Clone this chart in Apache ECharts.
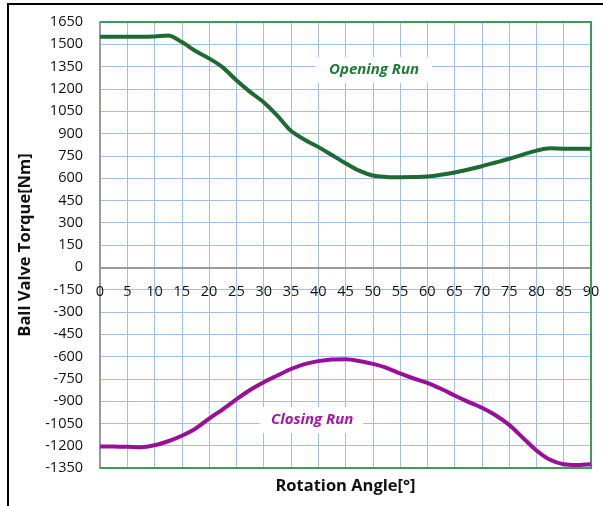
<!DOCTYPE html>
<html>
<head>
<meta charset="utf-8">
<script src="https://cdn.jsdelivr.net/npm/echarts@6/dist/echarts.min.js"></script>
<style>
  html, body { margin: 0; padding: 0; background: #fff; }
  #chart { width: 603px; height: 506px; }
</style>
</head>
<body>
<div id="chart"></div>
<script>
// Ball valve torque over the rotation angle, opening and closing runs
const openingAngles = [0, 2.5, 5, 7.5, 10, 12.5, 15, 17.5, 20, 22.5, 25, 27.5, 30, 32.5, 35, 37.5, 40, 42.5, 45, 47.5, 50, 52.5, 55, 57.5, 60, 62.5, 65, 67.5, 70, 72.5, 75, 77.5, 80, 82.5, 85, 87.5, 90];
const openingTorque = [1550, 1550, 1550, 1550, 1553, 1560, 1515, 1455, 1405, 1345, 1258, 1180, 1110, 1020, 918, 858, 810, 755, 700, 650, 617, 608, 606, 607, 610, 622, 638, 658, 680, 705, 730, 758, 785, 800, 798, 798, 798];

const closingAngles = [0, 2.5, 5, 7.5, 10, 12.5, 15, 17.5, 20, 22.5, 25, 27.5, 30, 32.5, 35, 37.5, 40, 42.5, 45, 47.5, 50, 52.5, 55, 57.5, 60, 62.5, 65, 67.5, 70, 72.5, 75, 77.5, 80, 82.5, 85, 87.5, 90];
const closingTorque = [-1205, -1206, -1207, -1210, -1197, -1170, -1133, -1085, -1018, -955, -888, -825, -773, -728, -684, -651, -631, -620, -618, -630, -650, -676, -714, -748, -777, -817, -862, -905, -945, -995, -1060, -1146, -1232, -1295, -1325, -1330, -1325];

const xTicks = { min: 0, max: 90, step: 5 };
const yTicks = { min: -1350, max: 1650, step: 150 };

const pairs = (xs, ys) => xs.map((x, i) => [x, ys[i]]);

const FONT = '"Open Sans", "Liberation Sans", sans-serif';
const GRID_BLUE = '#a3bfe6';
const BORDER_GREEN = '#3b9a5c';

// plot box in pixels
const W = 603, H = 506;
const GRID = { left: 100, right: 12, top: 22, bottom: 38 };
const plotWidth = W - GRID.left - GRID.right;
const plotHeight = H - GRID.top - GRID.bottom;
// lift the angle axis from the bottom edge up to the zero-torque line
const zeroLift = plotHeight * (0 - yTicks.min) / (yTicks.max - yTicks.min);

const chart = echarts.init(document.getElementById('chart'), null, { renderer: 'canvas' });

chart.setOption({
  animation: false,
  backgroundColor: '#fff',
  grid: GRID,
  xAxis: [
    {
      type: 'value', min: xTicks.min, max: xTicks.max, interval: xTicks.step,
      position: 'bottom', offset: -zeroLift,
      axisLine: { onZero: false, lineStyle: { color: '#9a9a9a', width: 2 } },
      axisTick: { show: false },
      axisLabel: { color: '#111', fontFamily: FONT, fontSize: 14.5, margin: 17, showMaxLabel: true },
      splitLine: { show: true, lineStyle: { color: GRID_BLUE, width: 1 } }
    },
    {
      type: 'value', min: xTicks.min, max: xTicks.max, position: 'bottom',
      name: 'Rotation Angle[°]', nameLocation: 'middle', nameGap: 10,
      nameTextStyle: { color: '#111', fontFamily: FONT, fontSize: 16.5, fontWeight: 'bold' },
      axisLine: { show: false, onZero: false }, axisTick: { show: false }, axisLabel: { show: false },
      splitLine: { show: false }
    }
  ],
  yAxis: {
    type: 'value', min: yTicks.min, max: yTicks.max, interval: yTicks.step,
    name: 'Ball Valve Torque[Nm]', nameLocation: 'middle', nameGap: 54,
    nameTextStyle: { color: '#111', fontFamily: FONT, fontSize: 16.5, fontWeight: 'bold' },
    axisLine: { show: true, onZero: false, lineStyle: { color: '#9a9a9a', width: 2 } },
    axisTick: { show: false },
    axisLabel: { color: '#111', fontFamily: FONT, fontSize: 14.5, margin: 17, formatter: v => String(v) },
    splitLine: { show: true, lineStyle: { color: GRID_BLUE, width: 1 } }
  },
  series: [
    {
      name: 'Opening Run', type: 'line', smooth: 0.3, symbol: 'none',
      data: pairs(openingAngles, openingTorque),
      lineStyle: { color: '#1d6b31', width: 4 }, z: 5
    },
    {
      name: 'Closing Run', type: 'line', smooth: 0.3, symbol: 'none',
      data: pairs(closingAngles, closingTorque),
      lineStyle: { color: '#990f99', width: 4 }, z: 5
    }
  ],
  graphic: [
    {
      // green frame on the top, right and bottom of the plot area
      type: 'polyline', z: 1,
      shape: { points: [
        [GRID.left, GRID.top], [GRID.left + plotWidth, GRID.top],
        [GRID.left + plotWidth, GRID.top + plotHeight], [GRID.left, GRID.top + plotHeight]
      ] },
      style: { stroke: BORDER_GREEN, lineWidth: 2, fill: null }
    },
    {
      type: 'text', left: 316, top: 57, z: 10,
      style: {
        text: 'Opening Run', fill: '#1f7a3a', font: 'italic bold 15px ' + FONT,
        backgroundColor: '#fff', padding: [5, 13, 6, 13]
      }
    },
    {
      type: 'text', left: 260, top: 407, z: 10,
      style: {
        text: 'Closing Run', fill: '#a3189f', font: 'italic bold 15px ' + FONT,
        backgroundColor: '#fff', padding: [5, 10, 6, 11]
      }
    },
    {
      type: 'polyline', z: 20,
      shape: { points: [[8, H], [8, 4], [W, 4]] },
      style: { stroke: '#000', lineWidth: 2, fill: null }
    }
  ]
});
</script>
</body>
</html>
